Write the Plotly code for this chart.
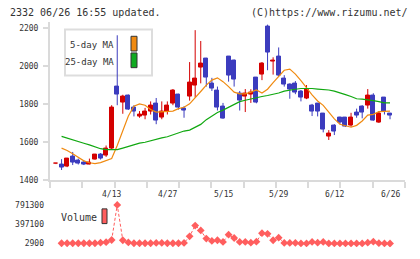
import plotly.graph_objects as go

W, H = 420, 259

dates = ["3/30", "3/31",
         "4/1", "4/2", "4/3", "4/6", "4/7", "4/8", "4/9", "4/10", "4/13", "4/14", "4/15", "4/16", "4/17",
         "4/20", "4/21", "4/22", "4/23", "4/24", "4/27", "4/28", "4/30",
         "5/1", "5/7", "5/8", "5/11", "5/12", "5/13", "5/14", "5/15", "5/18", "5/19", "5/20", "5/21", "5/22",
         "5/25", "5/26", "5/27", "5/28", "5/29",
         "6/1", "6/2", "6/3", "6/4", "6/5", "6/8", "6/9", "6/10", "6/11", "6/12", "6/15", "6/16", "6/17",
         "6/18", "6/19", "6/22", "6/23", "6/24", "6/25", "6/26"]

opens = [1488, 1483, 1472, 1524, 1502, 1495, 1486, 1512, 1534, 1532, 1567, 1894, 1811, 1849, 1785,
         1736, 1739, 1761, 1803, 1730, 1760, 1803, 1851, 1778, 1842, 1897, 1994, 2043, 1911, 1871,
         1791, 2052, 2029, 1859, 1839, 1851, 1940, 1957, 2212, 2026, 2052, 1937, 1902, 1911, 1868,
         1830, 1796, 1803, 1751, 1631, 1691, 1730, 1730, 1691, 1756, 1791, 1794, 1847, 1705, 1834, 1751]
highs = [1490, 1512, 1518, 1550, 1515, 1507, 1515, 1537, 1544, 1584, 1796, 2164, 1851, 1852, 1796,
         1765, 1782, 1816, 1834, 1816, 1816, 1881, 1856, 1791, 2023, 2191, 2134, 2045, 1940, 1894,
         1808, 2055, 2036, 1871, 1881, 1880, 1942, 2023, 2220, 2048, 2100, 1954, 1911, 1923, 1876,
         1902, 1803, 1805, 1753, 1665, 1696, 1735, 1733, 1756, 1778, 1796, 1881, 1859, 1765, 1837, 1752]
lows = [1486, 1455, 1470, 1481, 1484, 1481, 1485, 1510, 1510, 1524, 1565, 1796, 1751, 1771, 1737,
        1730, 1722, 1747, 1696, 1722, 1747, 1796, 1773, 1730, 1820, 1837, 1911, 1894, 1871, 1768,
        1725, 1920, 1894, 1768, 1760, 1808, 1806, 1928, 1980, 1957, 1949, 1894, 1830, 1854, 1816,
        1828, 1739, 1737, 1653, 1613, 1639, 1696, 1682, 1682, 1730, 1727, 1778, 1714, 1703, 1747, 1722]
closes = [1489, 1466, 1515, 1493, 1489, 1486, 1492, 1534, 1517, 1570, 1785, 1851, 1839, 1773, 1761,
          1747, 1761, 1796, 1713, 1760, 1796, 1871, 1782, 1768, 1916, 1937, 2014, 1942, 1885, 1782,
          1727, 1951, 1933, 1820, 1856, 1865, 1808, 2014, 2074, 2030, 1951, 1906, 1880, 1865, 1834,
          1876, 1760, 1760, 1670, 1648, 1656, 1705, 1684, 1730, 1744, 1756, 1847, 1716, 1751, 1761, 1742]

ma5 = [None, 1570, 1558, 1541, 1520, 1503, 1493, 1489, 1494, 1503, 1515, 1584, 1662, 1739, 1791,
       1803, 1796, 1773, 1760, 1761, 1765, 1765, 1778, 1785, 1803, 1834, 1868, 1902, 1928, 1940,
       1920, 1894, 1865, 1856, 1856, 1865, 1876, 1860, 1880, 1915, 1950, 1980, 1986, 1960, 1925,
       1885, 1850, 1818, 1795, 1760, 1724, 1696, 1686, 1680, 1690, 1713, 1744, 1748, 1762, 1765, 1765]
ma25 = [None, 1632, 1624, 1615, 1606, 1596, 1587, 1575, 1567, 1562, 1562, 1562, 1570, 1579, 1589,
        1596, 1601, 1610, 1615, 1624, 1630, 1640, 1653, 1660, 1665, 1678, 1695, 1720, 1740, 1758,
        1770, 1785, 1798, 1815, 1822, 1830, 1837, 1842, 1847, 1853, 1860, 1870, 1877, 1880, 1884,
        1885, 1884, 1881, 1879, 1876, 1870, 1863, 1852, 1842, 1830, 1828, 1825, 1820, 1815, 1808, 1808]
volume = [None, 8000, 8000, 8000, 8000, 8000, 8000, 8000, 20000, 30000, 75000, 791300, 69000, 25000, 8000,
          8000, 8000, 8000, 15000, 15000, 8000, 8000, 8000, 15000, 150000, 370000, 270000, 103000, 55000, 69000,
          35000, 183000, 115000, 35000, 35000, 20000, 40000, 215000, 200000, 69000, 123000, 15000, 15000, 15000, 5000,
          5000, 35000, 20000, 35000, 5000, 5000, 5000, 5000, 5000, 5000, 5000, 20000, 40000, 10000, 5000, 2900]

label_idx = [10, 20, 30, 40, 50, 60]
price_ticks = [1400, 1600, 1800, 2000, 2200]
vol_ticks = [2900, 397100, 791300]

RED = "#d40000"
BLUE = "#3c3cbe"
ORANGE = "#f08a10"
GREEN = "#10a810"
VOLC = "#ff5e5e"
AX = "#dadada"
TXT = "#333333"
FONT = "DejaVu Sans Mono"

n = len(dates)
idx = list(range(n))


def px(x):
    return x / W


def py(y):
    return 1 - y / H


step = 5.567
x0 = 56.0
xr = [(50 - x0) / step, (405 - x0) / step]
tick_pos = [(50 + k * (355 / 11) - x0) / step for k in range(12)]

ppu = 155 / 800
yr = [1400, 1400 + (184 - 22) / ppu]
vppu = (248.3 - 209) / (791300 - 2900)
vr = [2900 - (252 - 248.3) / vppu, 791300 + (209 - 205) / vppu]

up = [c >= o for o, c in zip(opens, closes)]
colors = [RED if u else BLUE for u in up]

fig = go.Figure()

for col, flag in ((RED, True), (BLUE, False)):
    xs, ys = [], []
    for i in idx:
        if up[i] == flag:
            xs += [i, i, None]
            ys += [lows[i], highs[i], None]
    fig.add_trace(go.Scatter(x=xs, y=ys, mode="lines", line=dict(color=col, width=1),
                             hoverinfo="skip", showlegend=False, xaxis="x", yaxis="y"))

fig.add_trace(go.Bar(x=idx, base=[min(o, c) for o, c in zip(opens, closes)],
                     y=[max(abs(c - o), 2) for o, c in zip(opens, closes)],
                     width=0.72, marker=dict(color=colors, line=dict(color=colors, width=1)),
                     showlegend=False, xaxis="x", yaxis="y"))

fig.add_trace(go.Scatter(x=idx, y=ma5, mode="lines", line=dict(color=ORANGE, width=1.2),
                         showlegend=False, xaxis="x", yaxis="y"))
fig.add_trace(go.Scatter(x=idx, y=ma25, mode="lines", line=dict(color=GREEN, width=1.2),
                         showlegend=False, xaxis="x", yaxis="y"))

fig.add_trace(go.Scatter(x=idx, y=volume, mode="lines+markers",
                         line=dict(color=VOLC, width=1, dash="3px,2px"),
                         marker=dict(symbol="diamond", size=6, color=VOLC),
                         showlegend=False, xaxis="x2", yaxis="y2"))

shapes = [
    dict(type="rect", xref="paper", yref="paper", x0=px(65), x1=px(152), y0=py(77), y1=py(30),
         line=dict(color="#dddddd", width=2), fillcolor="white", layer="below"),
    dict(type="rect", xref="paper", yref="paper", x0=px(131), x1=px(137), y0=py(52), y1=py(37),
         line=dict(color="#333333", width=1), fillcolor=ORANGE),
    dict(type="rect", xref="paper", yref="paper", x0=px(131), x1=px(137), y0=py(69), y1=py(54),
         line=dict(color="#333333", width=1), fillcolor="#10aa20"),
    dict(type="rect", xref="paper", yref="paper", x0=px(102), x1=px(107), y0=py(228), y1=py(213),
         line=dict(color="#333333", width=1), fillcolor=VOLC),
]

annotations = [
    dict(text="2332 06/26 16:55 updated.", xref="paper", yref="paper", x=px(8), y=py(12.5),
         xanchor="left", yanchor="middle", showarrow=False, font=dict(family=FONT, size=10, color=TXT)),
    dict(text="(C)https://www.rizumu.net/", xref="paper", yref="paper", x=px(410), y=py(12.5),
         xanchor="right", yanchor="middle", showarrow=False, font=dict(family=FONT, size=10, color=TXT)),
    dict(text="5-day MA", xref="paper", yref="paper", x=px(116), y=py(46),
         xanchor="right", yanchor="middle", showarrow=False, font=dict(family=FONT, size=9, color=TXT)),
    dict(text="25-day MA", xref="paper", yref="paper", x=px(116), y=py(63),
         xanchor="right", yanchor="middle", showarrow=False, font=dict(family=FONT, size=9, color=TXT)),
    dict(text="Volume", xref="paper", yref="paper", x=px(59), y=py(222),
         xanchor="left", yanchor="middle", showarrow=False, font=dict(family=FONT, size=10, color=TXT)),
]
for i in label_idx:
    annotations.append(dict(text=dates[i], xref="x", yref="paper", x=i, y=py(198),
                            xanchor="center", yanchor="middle", showarrow=False,
                            font=dict(family=FONT, size=8, color=TXT)))

fig.update_layout(
    width=W, height=H, margin=dict(l=0, r=0, t=0, b=0),
    paper_bgcolor="white", plot_bgcolor="white",
    showlegend=False, shapes=shapes, annotations=annotations,
    xaxis=dict(domain=[px(50), px(405)], range=xr, showgrid=False, zeroline=False,
               showline=True, linecolor=AX, linewidth=2, tickmode="array", tickvals=tick_pos,
               ticks="outside", ticklen=6, tickwidth=2, tickcolor=AX, showticklabels=False,
               anchor="y"),
    yaxis=dict(domain=[py(184), py(22)], range=yr, showgrid=False, zeroline=False,
               showline=True, linecolor=AX, linewidth=2, tickmode="array", tickvals=price_ticks,
               ticks="outside", ticklen=5, tickwidth=2, tickcolor=AX, ticklabelstandoff=3,
               tickfont=dict(family=FONT, size=8, color=TXT), anchor="x"),
    xaxis2=dict(domain=[px(50), px(405)], range=xr, visible=False, anchor="y2"),
    yaxis2=dict(domain=[py(252), py(205)], range=vr, showgrid=False, zeroline=False,
                showline=False, tickmode="array", tickvals=vol_ticks,
                ticktext=[str(v) for v in vol_ticks], ticks="", ticklabelstandoff=5,
                tickfont=dict(family=FONT, size=8, color=TXT), anchor="x2"),
    bargap=0,
)

fig.write_html("out.html")
